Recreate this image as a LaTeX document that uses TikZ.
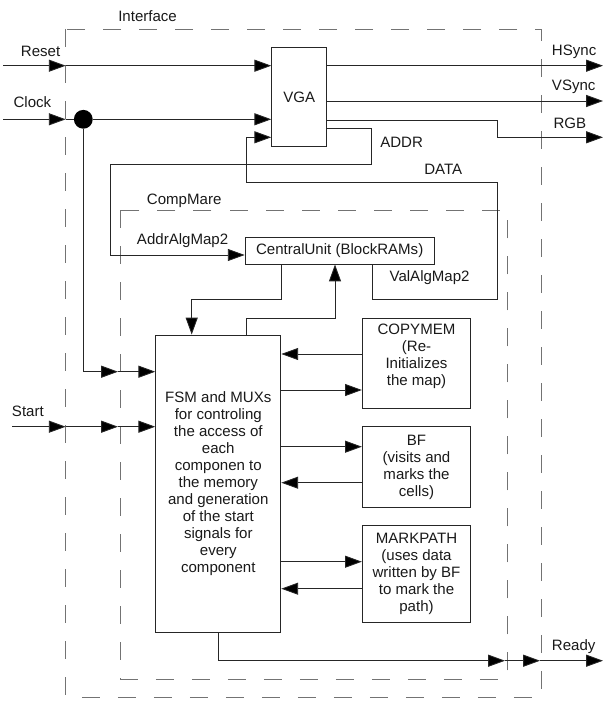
\documentclass[tikz,border=0pt]{standalone}
\usepackage{fontspec}
\setmainfont{Liberation Sans}
\usetikzlibrary{arrows.meta}

\tikzstyle{rec} = [rectangle, draw = black!85, line width = 0.6pt, text = black!90, text centered, align = center, inner sep = 0pt]
\tikzstyle{lbl} = [anchor = base west, inner sep = 0pt, text = black!90]
\tikzstyle{arrow} = [line width = 0.6pt, -{Triangle[length = 4.2mm, width = 3mm, fill = black]}, draw = black!85]
\tikzstyle{line} = [line width = 0.6pt, -, draw = black!85]
\tikzstyle{frame} = [line width = 0.7pt, draw = black!55, dash pattern = on 0.45cm off 0.45cm]

\begin{document}
\begin{tikzpicture}[x = 0.025cm, y = -0.025cm, font = \fontsize{10.7}{12.1}\selectfont]
    \useasboundingbox (0,0) rectangle (603,702);
    \draw[frame] (65.7,29) rectangle (541.7,697);
    \draw[frame] (120.7,210) rectangle (507.3,679);
    \node(interface)[lbl] at (118,22) {Interface};
    \node(compmare)[lbl] at (146.7,204) {CompMare};

    \node(vga)[rec, minimum width = 1.375cm, minimum height = 2.46cm] at (299.2,96.9) {VGA};
    \node(central)[rec, minimum width = 4.73cm, minimum height = 0.67cm] at (339.7,250.7) {CentralUnit (BlockRAMs)};
    \node(fsm)[rec, minimum width = 3.13cm, minimum height = 7.44cm] at (218.3,483.8) {FSM and MUXs\\for controling\\the access of\\each\\componen to\\the memory\\and generation\\of the start\\signals for\\every\\component};
    \node(copymem)[rec, minimum width = 2.71cm, minimum height = 2.25cm, text depth = 0.44cm] at (416.5,363.3) {COPYMEM\\(Re-\\Initializes\\the map)};
    \node(bf)[rec, minimum width = 2.71cm, minimum height = 2.02cm] at (416.5,467) {BF\\(visits and\\marks the\\cells)};
    \node(markpath)[rec, minimum width = 2.71cm, minimum height = 2.42cm] at (416.5,574) {MARKPATH\\(uses data\\written by BF\\to mark the\\path)};
    \node(dot)[circle, fill = black, minimum size = 0.47cm, inner sep = 0pt] at (83.3,119.3) {};

    \coordinate(resetin) at (3,65.7);
    \coordinate(resetb) at (65.7,65.7);
    \coordinate(clockin) at (3,119.3);
    \coordinate(clockb) at (65.7,119.3);
    \coordinate(clockcm) at (118,371.7);
    \coordinate(startin) at (12,426.7);
    \coordinate(startb) at (65.7,426.7);
    \coordinate(startcm) at (118,426.7);
    \coordinate(hsync) at (603,65.7);
    \coordinate(vsync) at (603,101);
    \coordinate(rgbturn) at (497.7,137.3);
    \coordinate(rgb) at (603,137.3);
    \coordinate(readycm) at (505,660.7);
    \coordinate(readyb) at (540,660.7);
    \coordinate(ready) at (603,660.7);

    \node(reset_lbl)[lbl] at (20.7,57) {Reset};
    \node(clock_lbl)[lbl] at (13.3,108) {Clock};
    \node(start_lbl)[lbl] at (11.7,416) {Start};
    \node(hsync_lbl)[lbl] at (551.7,55.7) {HSync};
    \node(vsync_lbl)[lbl] at (551.7,90.7) {VSync};
    \node(rgb_lbl)[lbl] at (553.3,129) {RGB};
    \node(addr_lbl)[lbl] at (380,147.3) {ADDR};
    \node(data_lbl)[lbl] at (424,174.3) {DATA};
    \node(addralg_lbl)[lbl] at (136.7,244.3) {AddrAlgMap2};
    \node(valalg_lbl)[lbl] at (389.3,281.7) {ValAlgMap2};
    \node(ready_lbl)[lbl] at (551.7,650.7) {Ready};

    \draw[arrow] (resetin) -- (resetb);
    \draw[arrow] (resetb) -- (resetb -| vga.west);
    \draw[arrow] (clockin) -- (clockb);
    \draw[line] (clockb) -- (dot);
    \draw[arrow] (dot) -- (dot -| vga.west);
    \draw[arrow] (dot) |- (clockcm);
    \draw[arrow] (clockcm) -- (clockcm -| fsm.west);
    \draw[arrow] (startin) -- (startb);
    \draw[arrow] (startb) -- (startcm);
    \draw[arrow] (startcm) -- (startcm -| fsm.west);

    \draw[arrow] (vga.east |- hsync) -- (hsync);
    \draw[arrow] (vga.east |- vsync) -- (vsync);
    \draw[arrow] (vga.east |- 0,120) -| (rgbturn) -- (rgb);
    \draw[arrow] (vga.east |- 0,128.3) -| (371,164.3) -| (110,255) -- (central.west |- 0,255);
    \draw[arrow] (central.south -| 372,0) |- (497.7,299) |- (246,182.7) |- (vga.west |- 0,137.3);
    \draw[arrow] (central.south -| 281,0) |- (191.7,299.3) -- (fsm.north -| 191.7,0);
    \draw[arrow] (fsm.north -| 246,0) |- (335,318.3) -- (central.south -| 335,0);

    \draw[arrow] (copymem.west |- 0,354) -- (fsm.east |- 0,354);
    \draw[arrow] (fsm.east |- 0,390) -- (copymem.west |- 0,390);
    \draw[arrow] (fsm.east |- 0,446.7) -- (bf.west |- 0,446.7);
    \draw[arrow] (bf.west |- 0,482.7) -- (fsm.east |- 0,482.7);
    \draw[arrow] (fsm.east |- 0,561.7) -- (markpath.west |- 0,561.7);
    \draw[arrow] (markpath.west |- 0,588.7) -- (fsm.east |- 0,588.7);

    \draw[arrow] (fsm.south) |- (readycm);
    \draw[arrow] (readycm) -- (readyb);
    \draw[arrow] (readyb) -- (ready);
\end{tikzpicture}
\end{document}
